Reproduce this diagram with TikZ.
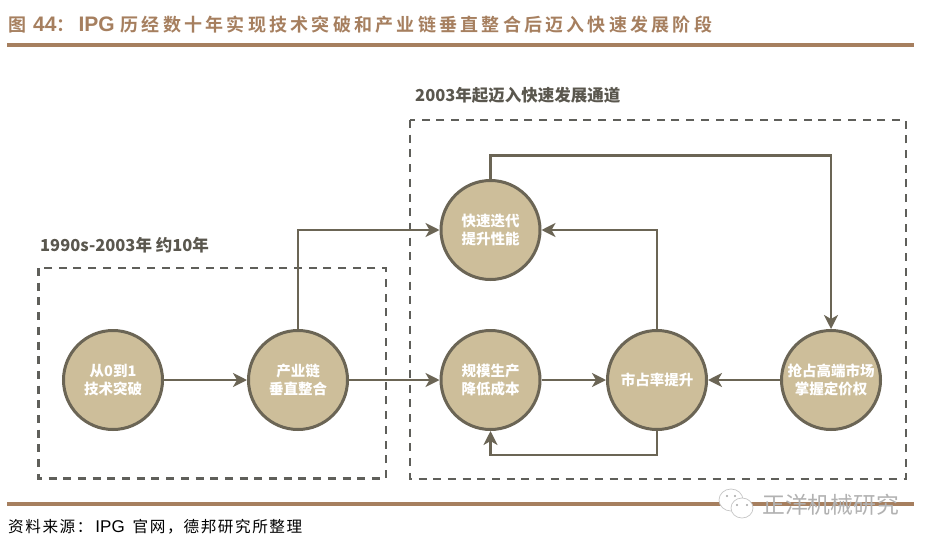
\documentclass[tikz,border=0pt]{standalone}
\usepackage{fontspec}
\usetikzlibrary{arrows.meta}
\setmainfont{Liberation Sans}
\newfontfamily\cjk{Noto Sans CJK SC}
\newfontfamily\cjkt{Noto Sans CJK SC Bold}[LetterSpace=18]
\newfontfamily\cjks{Noto Sans CJK SC}[LetterSpace=10]
\newfontfamily\latb{Liberation Sans Bold}
\newfontfamily\latr{Liberation Sans}
\newcommand{\ttl}{\cjkt\fontsize{18}{20}\selectfont}
\newcommand{\ttb}{\latb\fontsize{21}{20}\selectfont}
\newcommand{\srz}{\cjks\fontsize{15.6}{18}\selectfont}
\newcommand{\srl}{\latr\fontsize{17}{18}\selectfont}
\definecolor{brownrule}{HTML}{A67F5F}
\definecolor{darkline}{HTML}{6B6555}
\definecolor{fillc}{HTML}{CDBE9A}
\definecolor{dashc}{HTML}{5F5F5A}
\definecolor{labelc}{HTML}{5A574E}
\tikzset{
  circ/.style={circle,draw=darkline,fill=fillc,line width=3pt,minimum size=99pt,inner sep=0pt,
    text=white,align=center,font=\cjk\bfseries\fontsize{14.5}{18.5}\selectfont},
  conn/.style={draw=darkline,line width=2.5pt,-{Stealth[length=14pt,width=14pt,inset=4pt]}},
  dashbox/.style={draw=dashc,line width=2.3pt,dash pattern=on 8pt off 6.7pt},
  grp/.style={text=labelc,anchor=west,font=\cjk\bfseries\fontsize{16.5}{18}\selectfont},
  rulel/.style={draw=brownrule,line width=3.6pt}
}
\begin{document}
\begin{tikzpicture}[x=1pt,y=-1pt]
\useasboundingbox (0,0) rectangle (928,546);
\fill[white] (0,0) rectangle (928,546);
\node[anchor=west,text=brownrule,inner sep=0pt] (title) at (8,25) {\ttl 图\hspace{7pt}{\ttb 44}：\hspace{4pt}{\ttb IPG}\hspace{6pt}历经数十年实现技术突破和产业链垂直整合后迈入快速发展阶段};
\coordinate (r1a) at (7,45); \coordinate (r1b) at (914,45);
\draw[rulel] (r1a) -- (r1b);
\coordinate (r2a) at (7,504); \coordinate (r2b) at (914,504);
\draw[rulel] (r2a) -- (r2b);
\draw[dashbox] (38.5,268) rectangle (386,478.5);
\draw[dashbox] (410,120) rectangle (906,479);
\node[grp,inner sep=0pt] (lab1) at (40,245) {1990s-2003年 约10年};
\node[grp,inner sep=0pt] (lab2) at (415,95) {2003年起迈入快速发展通道};
\node[circ] (a) at (113,380) {从0到1\\技术突破};
\node[circ] (b) at (298,380) {产业链\\垂直整合};
\node[circ] (c) at (490.5,380) {规模生产\\降低成本};
\node[circ] (d) at (657,380) {市占率提升};
\node[circ] (e) at (831,380) {抢占高端市场\\掌握定价权};
\node[circ] (f) at (490.5,230) {快速迭代\\提升性能};
\draw[conn] (a) -- (b);
\draw[conn] (b) -- (c);
\draw[conn] (c) -- (d);
\draw[conn] (e) -- (d);
\draw[conn] (b.north) |- (f.west);
\draw[conn] (d.north) |- (f.east);
\draw[conn] (f.north) -- ++(0,-23.5) -| (e.north);
\draw[conn] (d.south) -- ++(0,24) -| (c.south);
\node[anchor=west,inner sep=0pt,text=black] (src) at (8,527) {\srz 资料来源：\hspace{3pt}{\srl IPG}\hspace{8pt}官网，\hspace{1pt}德邦研究所整理};
% watermark
\begin{scope}[draw=gray!45,fill=white,line width=0.7pt]
\filldraw (731,500) ellipse (12 and 11);
\filldraw (742,508) ellipse (11 and 10);
\fill[gray!70] (737,505) circle (1.2) (747,505) circle (1.2) (727,496) circle (1.1) (735,496) circle (1.1);
\end{scope}
\node[anchor=west,inner sep=0pt,text=gray!60,font=\cjk\fontsize{22.8}{24}\selectfont] (wm) at (762,505) {正洋机械研究};
\end{tikzpicture}
\end{document}
